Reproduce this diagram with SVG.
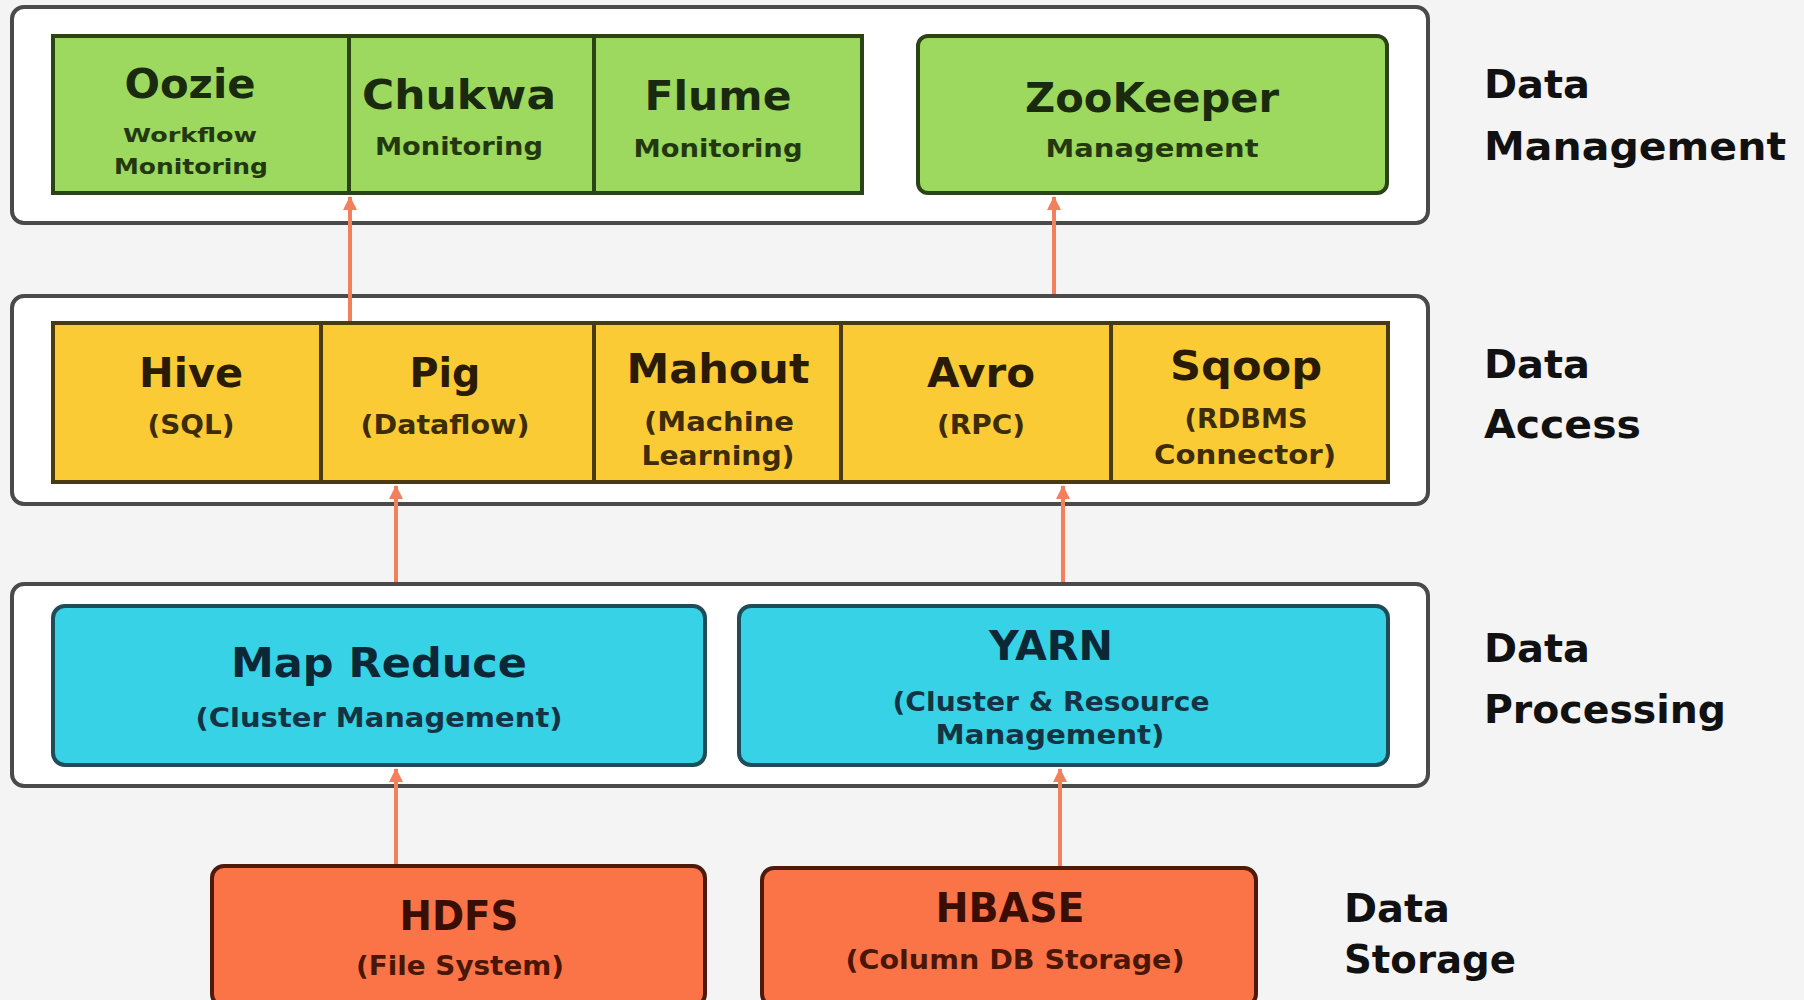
<svg xmlns="http://www.w3.org/2000/svg" width="1804" height="1000" viewBox="0 0 1804 1000">
<defs>
<marker id="ah" markerWidth="16" markerHeight="16" refX="13" refY="7" orient="auto" markerUnits="userSpaceOnUse" viewBox="0 0 16 14">
<path d="M0 0 L14 7 L0 14 Z" fill="#f2805c"/>
</marker>
</defs>
<style>
text{font-family:"DejaVu Sans","Liberation Sans",sans-serif;font-weight:bold;text-anchor:middle}
.layer{fill:#ffffff;stroke:#4a4a4a;stroke-width:4}
.g{fill:#9cd95e;stroke:#2a4418;stroke-width:4}
.y{fill:#fbcb36;stroke:#4a3a10;stroke-width:4}
.c{fill:#37d2e6;stroke:#1f4c58;stroke-width:4}
.o{fill:#fa7448;stroke:#4d1a0c;stroke-width:4}
.t{font-size:40px}
.gt{fill:#1a2a0e}.gs{fill:#24380f}
.yt{fill:#2a1c04}.ys{fill:#3d2c08}
.ct{fill:#0c2735}.cs{fill:#143444}
.ot{fill:#3a0e04}.os{fill:#4a1606}
.lab{font-size:39px;fill:#111;text-anchor:start}
.conn{stroke:#f2805c;stroke-width:4;fill:none}
</style>
<rect x="0" y="0" width="1804" height="1000" fill="#f4f4f4"/>

<g id="layer-management">
<rect class="layer" x="12" y="7" width="1416" height="216" rx="12"/>
</g>
<g id="layer-access">
<rect class="layer" x="12" y="296" width="1416" height="208" rx="12"/>
</g>
<g id="layer-processing">
<rect class="layer" x="12" y="584" width="1416" height="202" rx="12"/>
</g>

<g id="oozie">
<rect class="g" x="53" y="36" width="296" height="157"/>
<text class="t gt" x="190" y="98" textLength="131" lengthAdjust="spacingAndGlyphs">Oozie</text>
<text class="gs" x="190" y="142" font-size="20" textLength="134" lengthAdjust="spacingAndGlyphs">Workflow</text>
<text class="gs" x="191" y="174" font-size="22" textLength="154" lengthAdjust="spacingAndGlyphs">Monitoring</text>
</g>
<g id="chukwa">
<rect class="g" x="349" y="36" width="245" height="157"/>
<text class="t gt" x="459" y="109" textLength="194" lengthAdjust="spacingAndGlyphs">Chukwa</text>
<text class="gs" x="459" y="155" font-size="25" textLength="168" lengthAdjust="spacingAndGlyphs">Monitoring</text>
</g>
<g id="flume">
<rect class="g" x="594" y="36" width="268" height="157"/>
<text class="t gt" x="718" y="110" textLength="147" lengthAdjust="spacingAndGlyphs">Flume</text>
<text class="gs" x="718" y="157" font-size="25" textLength="169" lengthAdjust="spacingAndGlyphs">Monitoring</text>
</g>
<g id="zookeeper">
<rect class="g" x="918" y="36" width="469" height="157" rx="10"/>
<text class="t gt" x="1152" y="112" textLength="254" lengthAdjust="spacingAndGlyphs">ZooKeeper</text>
<text class="gs" x="1152" y="157" font-size="25" textLength="213" lengthAdjust="spacingAndGlyphs">Management</text>
</g>

<g id="hive">
<rect class="y" x="53" y="323" width="268" height="159"/>
<text class="t yt" x="191" y="387" textLength="104" lengthAdjust="spacingAndGlyphs">Hive</text>
<text class="ys" x="191" y="434" font-size="26" textLength="87" lengthAdjust="spacingAndGlyphs">(SQL)</text>
</g>
<g id="pig">
<rect class="y" x="321" y="323" width="273" height="159"/>
<text class="t yt" x="445" y="387" textLength="71" lengthAdjust="spacingAndGlyphs">Pig</text>
<text class="ys" x="445" y="434" font-size="26" textLength="169" lengthAdjust="spacingAndGlyphs">(Dataflow)</text>
</g>
<g id="mahout">
<rect class="y" x="594" y="323" width="247" height="159"/>
<text class="t yt" x="718" y="383" textLength="183" lengthAdjust="spacingAndGlyphs">Mahout</text>
<text class="ys" x="719" y="431" font-size="26" textLength="150" lengthAdjust="spacingAndGlyphs">(Machine</text>
<text class="ys" x="718" y="465" font-size="26" textLength="153" lengthAdjust="spacingAndGlyphs">Learning)</text>
</g>
<g id="avro">
<rect class="y" x="841" y="323" width="270" height="159"/>
<text class="t yt" x="981" y="387" textLength="108" lengthAdjust="spacingAndGlyphs">Avro</text>
<text class="ys" x="981" y="434" font-size="26" textLength="88" lengthAdjust="spacingAndGlyphs">(RPC)</text>
</g>
<g id="sqoop">
<rect class="y" x="1111" y="323" width="277" height="159"/>
<text class="t yt" x="1246" y="380" textLength="152" lengthAdjust="spacingAndGlyphs">Sqoop</text>
<text class="ys" x="1246" y="428" font-size="26" textLength="123" lengthAdjust="spacingAndGlyphs">(RDBMS</text>
<text class="ys" x="1245" y="464" font-size="26" textLength="182" lengthAdjust="spacingAndGlyphs">Connector)</text>
</g>

<g id="mapreduce">
<rect class="c" x="53" y="606" width="652" height="159" rx="12"/>
<text class="t ct" x="379" y="677" textLength="296" lengthAdjust="spacingAndGlyphs">Map Reduce</text>
<text class="cs" x="379" y="727" font-size="27" textLength="367" lengthAdjust="spacingAndGlyphs">(Cluster Management)</text>
</g>
<g id="yarn">
<rect class="c" x="739" y="606" width="649" height="159" rx="12"/>
<text class="t ct" x="1051" y="660" textLength="124" lengthAdjust="spacingAndGlyphs">YARN</text>
<text class="cs" x="1051" y="711" font-size="27" textLength="317" lengthAdjust="spacingAndGlyphs">(Cluster &amp; Resource</text>
<text class="cs" x="1050" y="744" font-size="27" textLength="229" lengthAdjust="spacingAndGlyphs">Management)</text>
</g>

<g id="hdfs">
<rect class="o" x="212" y="866" width="493" height="140" rx="12"/>
<text class="t ot" x="459" y="930" textLength="119" lengthAdjust="spacingAndGlyphs">HDFS</text>
<text class="os" x="460" y="975" font-size="27" textLength="208" lengthAdjust="spacingAndGlyphs">(File System)</text>
</g>
<g id="hbase">
<rect class="o" x="762" y="868" width="494" height="138" rx="12"/>
<text class="t ot" x="1010" y="922" textLength="149" lengthAdjust="spacingAndGlyphs">HBASE</text>
<text class="os" x="1015" y="969" font-size="27" textLength="339" lengthAdjust="spacingAndGlyphs">(Column DB Storage)</text>
</g>

<g id="labels">
<text class="lab" x="1484" y="98" textLength="106" lengthAdjust="spacingAndGlyphs">Data</text>
<text class="lab" x="1484" y="160" textLength="302" lengthAdjust="spacingAndGlyphs">Management</text>
<text class="lab" x="1484" y="378" textLength="106" lengthAdjust="spacingAndGlyphs">Data</text>
<text class="lab" x="1484" y="438" textLength="157" lengthAdjust="spacingAndGlyphs">Access</text>
<text class="lab" x="1484" y="662" textLength="106" lengthAdjust="spacingAndGlyphs">Data</text>
<text class="lab" x="1484" y="723" textLength="242" lengthAdjust="spacingAndGlyphs">Processing</text>
<text class="lab" x="1344" y="922" textLength="106" lengthAdjust="spacingAndGlyphs">Data</text>
<text class="lab" x="1344" y="973" textLength="172" lengthAdjust="spacingAndGlyphs">Storage</text>
</g>

<g id="connectors">
<line class="conn" x1="350" y1="321" x2="350" y2="197" marker-end="url(#ah)"/>
<line class="conn" x1="1054" y1="294" x2="1054" y2="197" marker-end="url(#ah)"/>
<line class="conn" x1="396" y1="582" x2="396" y2="486" marker-end="url(#ah)"/>
<line class="conn" x1="1063" y1="582" x2="1063" y2="486" marker-end="url(#ah)"/>
<line class="conn" x1="396" y1="864" x2="396" y2="769" marker-end="url(#ah)"/>
<line class="conn" x1="1060" y1="866" x2="1060" y2="769" marker-end="url(#ah)"/>
</g>
</svg>
